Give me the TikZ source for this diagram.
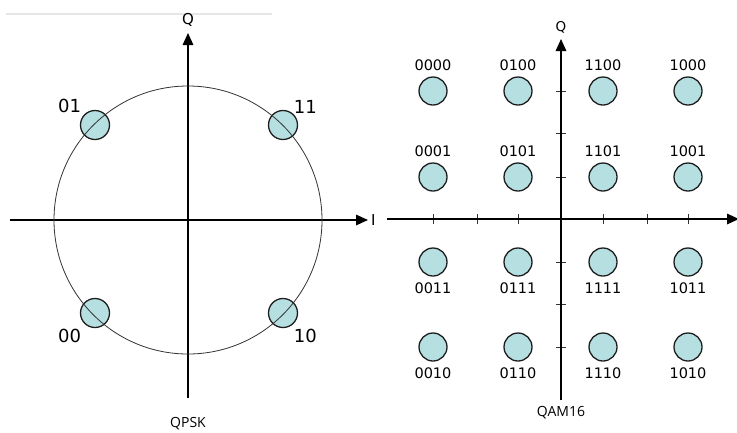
\documentclass[tikz,border=0pt]{standalone}
\usepackage{fontspec}
\setmainfont{DejaVu Sans}
\newfontfamily\captionfont{Open Sans}
\usetikzlibrary{arrows.meta,positioning}
\definecolor{pointfill}{HTML}{B5DFE1}
\definecolor{pointline}{HTML}{1E1E1E}
\definecolor{ringgray}{HTML}{333333}
\definecolor{rulegray}{HTML}{E6E6E6}

\begin{document}
\begin{tikzpicture}[
  x=1pt, y=-1pt,
  axis/.style={line width=1.6pt, -{Triangle[length=12pt, width=10.5pt]}},
  ring/.style={draw=ringgray, line width=0.8pt},
  tick/.style={line width=0.6pt, draw=ringgray},
  pt/.style={circle, draw=pointline, fill=pointfill, line width=1.3pt, inner sep=0pt},
  bigpt/.style={pt, minimum size=29pt},
  smallpt/.style={pt, minimum size=28pt},
  bigbits/.style={inner sep=0pt, font=\fontsize{18}{18}\selectfont},
  bits/.style={inner sep=0pt, font=\fontsize{14.5}{14.5}\selectfont},
  axlabel/.style={inner sep=0pt, font=\fontsize{15}{15}\selectfont},
  caption/.style={inner sep=0pt, font=\captionfont\fontsize{14}{14}\selectfont}
]
\useasboundingbox (0,0) rectangle (737,432);

% faint rule at the top
\draw[rulegray, line width=2pt] (6,14) -- (272,14);

% ---- QPSK ----
\coordinate (qpskO) at (188,220);
\coordinate (qpskQbot) at (188,398);
\coordinate (qpskQtop) at (188,33);
\coordinate (qpskIleft) at (10,220);
\coordinate (qpskIright) at (368,220);

\draw[axis] (qpskQbot) -- (qpskQtop);
\draw[axis] (qpskIleft) -- (qpskIright);
\node[axlabel] (qpskQ) at (188,20) {Q};
\node[axlabel, right=3pt of qpskIright] (qpskI) {I};

\node[bigpt] (p01) at (95,125) {};
\node[bigpt] (p11) at (283,125) {};
\node[bigpt] (p00) at (95,313) {};
\node[bigpt] (p10) at (283,313) {};

% ring runs over the points
\draw[ring] (qpskO) circle[radius=134pt];

\node[bigbits, above left=1pt and 3pt of p01] (l01) {01};
\node[bigbits, above right=1pt and 0pt of p11] (l11) {11};
\node[bigbits, below left=5pt and 3pt of p00] (l00) {00};
\node[bigbits, below right=5pt and 0pt of p10] (l10) {10};

\node[caption] (qpsk) at (188,424) {QPSK};

% ---- QAM16 ----
\coordinate (qamO) at (561,219);
\coordinate (qamQbot) at (561,400);
\coordinate (qamQtop) at (561,39);
\coordinate (qamIleft) at (387,219);
\coordinate (qamIright) at (739,219);

\draw[tick] (433,214) -- (433,224) (477,214) -- (477,224) (518,214) -- (518,224)
  (603,214) -- (603,224) (647,214) -- (647,224) (688,214) -- (688,224);
\draw[tick] (556,91) -- (566,91) (556,133) -- (566,133) (556,177) -- (566,177)
  (556,262) -- (566,262) (556,304) -- (566,304) (556,347) -- (566,347);
\draw[axis] (qamQbot) -- (qamQtop);
\draw[axis] (qamIleft) -- (qamIright);
\node[axlabel, font=\fontsize{13.5}{13.5}\selectfont] (qamQ) at (561,27) {Q};

\node[smallpt] (p0000) at (433,91) {};
\node[smallpt] (p0100) at (518,91) {};
\node[smallpt] (p1100) at (603,91) {};
\node[smallpt] (p1000) at (688,91) {};
\node[smallpt] (p0001) at (433,177) {};
\node[smallpt] (p0101) at (518,177) {};
\node[smallpt] (p1101) at (603,177) {};
\node[smallpt] (p1001) at (688,177) {};
\node[smallpt] (p0011) at (433,262) {};
\node[smallpt] (p0111) at (518,262) {};
\node[smallpt] (p1111) at (603,262) {};
\node[smallpt] (p1011) at (688,262) {};
\node[smallpt] (p0010) at (433,347) {};
\node[smallpt] (p0110) at (518,347) {};
\node[smallpt] (p1110) at (603,347) {};
\node[smallpt] (p1010) at (688,347) {};

\node[bits, above=5pt of p0000] (l0000) {0000};
\node[bits, above=5pt of p0100] (l0100) {0100};
\node[bits, above=5pt of p1100] (l1100) {1100};
\node[bits, above=5pt of p1000] (l1000) {1000};
\node[bits, above=5pt of p0001] (l0001) {0001};
\node[bits, above=5pt of p0101] (l0101) {0101};
\node[bits, above=5pt of p1101] (l1101) {1101};
\node[bits, above=5pt of p1001] (l1001) {1001};
\node[bits, below=6pt of p0011] (l0011) {0011};
\node[bits, below=6pt of p0111] (l0111) {0111};
\node[bits, below=6pt of p1111] (l1111) {1111};
\node[bits, below=6pt of p1011] (l1011) {1011};
\node[bits, below=6pt of p0010] (l0010) {0010};
\node[bits, below=6pt of p0110] (l0110) {0110};
\node[bits, below=6pt of p1110] (l1110) {1110};
\node[bits, below=6pt of p1010] (l1010) {1010};

\node[caption] (qam) at (561,413) {QAM16};
\end{tikzpicture}
\end{document}
